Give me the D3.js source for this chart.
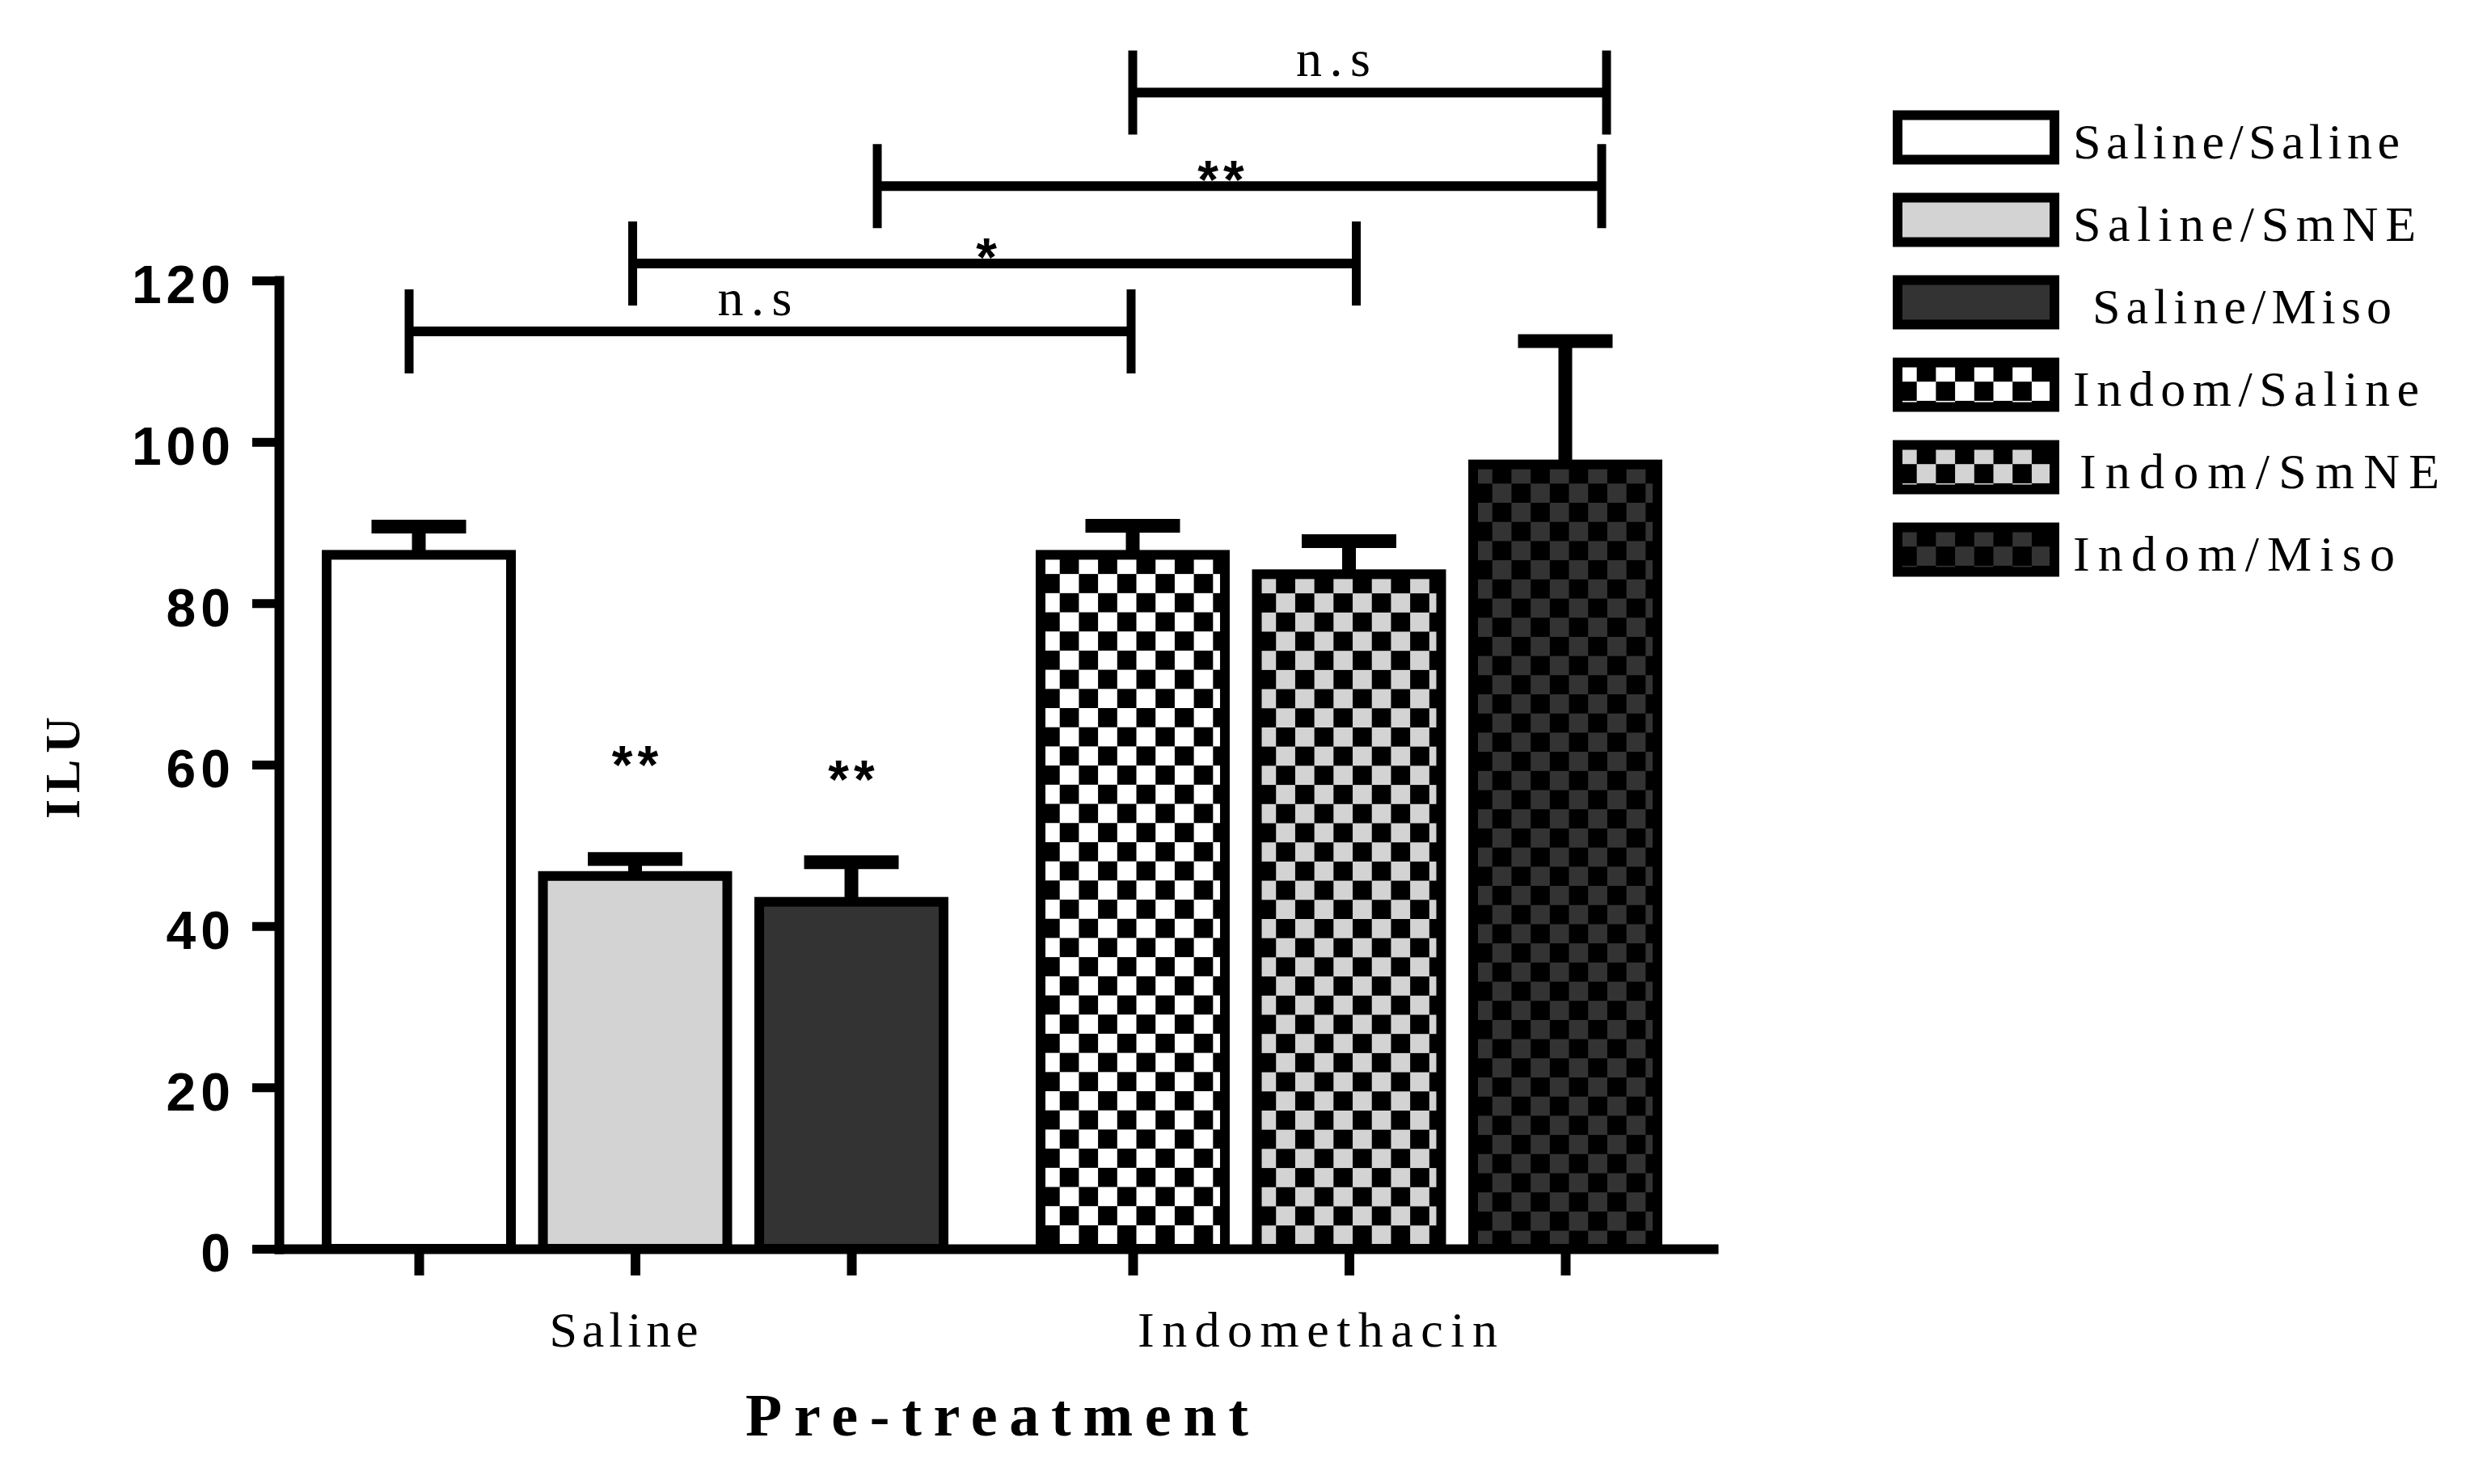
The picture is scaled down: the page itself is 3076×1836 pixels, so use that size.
<!DOCTYPE html>
<html>
<head>
<meta charset="utf-8">
<script src="https://cdn.jsdelivr.net/npm/d3@7"></script>
<style>
  html, body { margin: 0; padding: 0; background: #fff; }
  svg { display: block; }
</style>
</head>
<body>
<script>
  // ---- data ----
  const groups = ['Saline', 'Indomethacin'];
  const conditions = ['Saline/Saline', 'Saline/SmNE', 'Saline/Miso', 'Indom/Saline', 'Indom/SmNE', 'Indom/Miso'];
  const barGroup = [0, 0, 0, 1, 1, 1];
  const means = [86.0, 46.2, 43.0, 86.0, 83.6, 97.2];
  const sems = [3.5, 2.1, 4.9, 3.6, 4.1, 15.3];
  const barStars = ['', '**', '**', '', '', ''];
  const starLevels = [null, 57.7, 55.9, null, null, null];
  const yTicks = [0, 20, 40, 60, 80, 100, 120];

  // comparison brackets (bar index -> bar index)
  const bracketFrom = [0, 1, 2, 3];
  const bracketTo = [3, 4, 5, 5];
  const bracketLevels = [113.7, 122.1, 131.7, 143.3];
  const bracketLabels = ['n.s', '*', '**', 'n.s'];

  // ---- layout / style ----
  const width = 3076;
  const height = 1836;
  const serif = '"Liberation Serif", "Times New Roman", serif';
  const sans = '"Liberation Sans", Arial, sans-serif';
  const slotColors = ['#ffffff', '#d3d3d3', '#333333'];
  const sq = 23.7; // checker square
  const sw = 12;   // bar / axis stroke

  // small nudges so the brackets sit where the original put them
  const bracketNudgeL = [-12, -3, 32, 0];
  const bracketNudgeR = [-2, 9, 45, 51];
  const bracketLabelDx = [-19, -10, -23, -45];
  const groupLabelDx = [-14, -39];
  const groupLabelLen = [184, 445];
  const legendLen = [404, 424, 370, 428, 445, 398];
  const legendDx = [0, 0, 24, 0, 8, 0];

  const svg = d3.select('body')
    .append('svg')
    .attr('width', width)
    .attr('height', height);

  const defs = svg.append('defs');

  function checker(id, light, x, y) {
    const p = defs.append('pattern')
      .attr('id', id)
      .attr('patternUnits', 'userSpaceOnUse')
      .attr('x', x)
      .attr('y', y)
      .attr('width', 2 * sq)
      .attr('height', 2 * sq);
    p.append('rect').attr('width', 2 * sq).attr('height', 2 * sq).attr('fill', '#000');
    p.append('rect').attr('width', sq).attr('height', sq).attr('fill', light);
    p.append('rect').attr('x', sq).attr('y', sq).attr('width', sq).attr('height', sq).attr('fill', light);
    return `url(#${id})`;
  }

  function fillFor(i, id, x, y) {
    const light = slotColors[i % 3];
    return barGroup[i] === 1 ? checker(id, light, x, y) : light;
  }

  function starText(sel) {
    return sel
      .attr('text-anchor', 'middle')
      .attr('font-family', sans)
      .attr('font-weight', 'bold')
      .attr('font-size', 66)
      .attr('letter-spacing', 6);
  }

  // ---- scales ----
  const y = d3.scaleLinear().domain([0, 120]).range([1545, 347]);

  const x0 = d3.scaleBand()
    .domain(groups)
    .range([345, 2119])
    .paddingInner(0.1223)
    .paddingOuter(0.0657)
    .align(0.457);

  const x1 = d3.scaleBand()
    .domain([0, 1, 2])
    .range([0, x0.bandwidth()])
    .paddingInner(0.103)
    .paddingOuter(0);

  const barX = i => x0(groups[barGroup[i]]) + x1(i % 3);
  const barC = i => barX(i) + x1.bandwidth() / 2;

  const xBars = d3.scaleOrdinal()
    .domain(conditions)
    .range(conditions.map((c, i) => barC(i)));

  // ---- bars ----
  const bars = svg.append('g').attr('class', 'bars');
  conditions.forEach((c, i) => {
    const bx = barX(i) + sw / 2;
    const by = y(means[i]);
    bars.append('rect')
      .attr('x', bx)
      .attr('y', by)
      .attr('width', x1.bandwidth() - sw)
      .attr('height', y(0) - by)
      .attr('fill', fillFor(i, `pat-bar-${i}`, bx, by))
      .attr('stroke', '#000')
      .attr('stroke-width', sw);
  });

  // ---- error bars (upper only) ----
  const err = svg.append('g').attr('class', 'errors').attr('stroke', '#000').attr('stroke-width', 17);
  conditions.forEach((c, i) => {
    const cx = barC(i);
    const top = y(means[i] + sems[i]);
    err.append('line').attr('x1', cx).attr('x2', cx).attr('y1', y(means[i])).attr('y2', top);
    err.append('line').attr('x1', cx - 58.5).attr('x2', cx + 58.5).attr('y1', top).attr('y2', top);
  });

  // ---- stars over bars ----
  conditions.forEach((c, i) => {
    if (!barStars[i]) return;
    svg.append('text')
      .attr('x', barC(i) + 3)
      .attr('y', y(starLevels[i]))
      .call(starText)
      .text(barStars[i]);
  });

  // ---- y axis ----
  svg.append('g')
    .attr('transform', 'translate(345,0)')
    .call(d3.axisLeft(y).tickValues(yTicks).tickSizeInner(33).tickSizeOuter(0).tickPadding(21))
    .call(g => {
      g.select('.domain').attr('stroke', '#000').attr('stroke-width', sw).attr('stroke-linecap', 'square');
      g.selectAll('.tick line').attr('stroke', '#000').attr('stroke-width', 11);
      g.selectAll('.tick text')
        .attr('fill', '#000')
        .attr('font-family', sans)
        .attr('font-weight', 'bold')
        .attr('font-size', 66)
        .attr('letter-spacing', 6)
        .attr('dy', '0.42em');
    });

  // ---- x axis: line + group labels ----
  svg.append('g')
    .attr('transform', `translate(0,${y(0)})`)
    .call(d3.axisBottom(x0).tickSize(0).tickPadding(0))
    .call(g => {
      g.select('.domain').attr('stroke', '#000').attr('stroke-width', sw).attr('stroke-linecap', 'square');
      g.selectAll('.tick text')
        .attr('fill', '#000')
        .attr('font-family', serif)
        .attr('font-size', 62)
        .attr('y', 121)
        .attr('dy', 0)
        .attr('dx', (d, i) => groupLabelDx[i])
        .attr('textLength', (d, i) => groupLabelLen[i])
        .attr('lengthAdjust', 'spacing');
    });

  // ---- x axis: a tick under every bar ----
  svg.append('g')
    .attr('transform', `translate(0,${y(0)})`)
    .call(d3.axisBottom(xBars).tickSizeInner(33).tickSizeOuter(0).tickFormat(() => ''))
    .call(g => {
      g.select('.domain').remove();
      g.selectAll('.tick line').attr('stroke', '#000').attr('stroke-width', 12);
    });

  // ---- comparison brackets ----
  const br = svg.append('g').attr('class', 'brackets');
  bracketLevels.forEach((lev, k) => {
    const xl = barC(bracketFrom[k]) + bracketNudgeL[k];
    const xr = barC(bracketTo[k]) + bracketNudgeR[k];
    const yy = y(lev);
    br.append('line').attr('x1', xl).attr('x2', xr).attr('y1', yy).attr('y2', yy)
      .attr('stroke', '#000').attr('stroke-width', 12);
    [xl, xr].forEach(xx => {
      br.append('line').attr('x1', xx).attr('x2', xx).attr('y1', yy - 52).attr('y2', yy + 52)
        .attr('stroke', '#000').attr('stroke-width', 11);
    });
    const cx = (xl + xr) / 2 + bracketLabelDx[k];
    if (bracketLabels[k] === 'n.s') {
      br.append('text')
        .attr('x', cx)
        .attr('y', yy - 20)
        .attr('text-anchor', 'middle')
        .attr('font-family', serif)
        .attr('font-size', 64)
        .attr('textLength', 92)
        .attr('lengthAdjust', 'spacing')
        .text(bracketLabels[k]);
    } else {
      br.append('text')
        .attr('x', cx + 3)
        .attr('y', yy + 15)
        .call(starText)
        .text(bracketLabels[k]);
    }
  });

  // ---- axis titles ----
  svg.append('text')
    .attr('x', 1233)
    .attr('y', 1776)
    .attr('text-anchor', 'middle')
    .attr('font-family', serif)
    .attr('font-weight', 'bold')
    .attr('font-size', 74)
    .attr('textLength', 622)
    .attr('lengthAdjust', 'spacing')
    .text('Pre-treatment');

  svg.append('text')
    .attr('transform', 'translate(98,950) rotate(-90)')
    .attr('text-anchor', 'middle')
    .attr('font-family', serif)
    .attr('font-weight', 'bold')
    .attr('font-size', 62)
    .attr('textLength', 126)
    .attr('lengthAdjust', 'spacing')
    .text('ILU');

  // ---- legend ----
  const legend = svg.append('g').attr('class', 'legend');
  conditions.forEach((c, i) => {
    const cy = 170 + i * 102;
    const rx = 2347;
    const ry = cy - 27.5;
    legend.append('rect')
      .attr('x', rx)
      .attr('y', ry)
      .attr('width', 194)
      .attr('height', 55)
      .attr('fill', fillFor(i, `pat-leg-${i}`, rx, ry))
      .attr('stroke', '#000')
      .attr('stroke-width', sw);
    legend.append('text')
      .attr('x', 2564 + legendDx[i])
      .attr('y', cy + 26)
      .attr('font-family', serif)
      .attr('font-size', 62)
      .attr('textLength', legendLen[i])
      .attr('lengthAdjust', 'spacing')
      .text(c);
  });
</script>
</body>
</html>
